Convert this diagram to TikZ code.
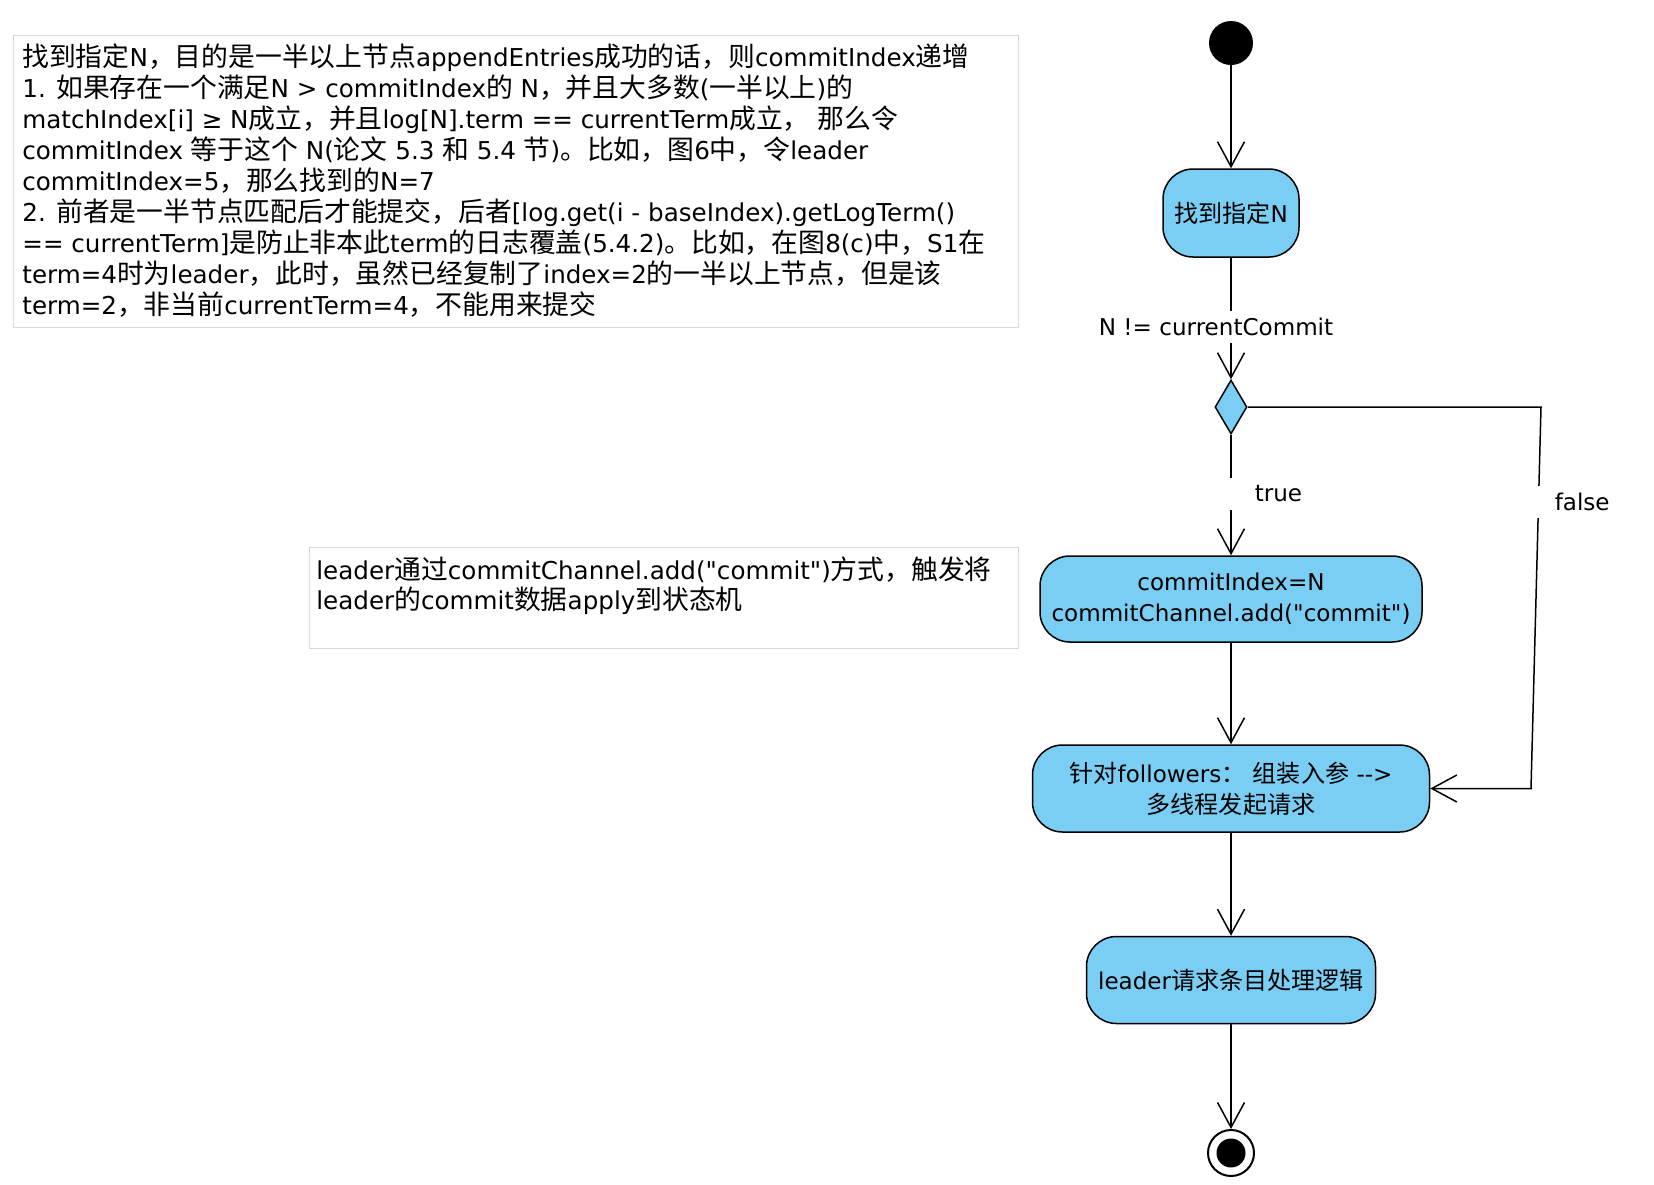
\documentclass[tikz,border=0pt]{standalone}
\usepackage{fontspec}
\setmainfont{DejaVu Sans}
\newfontfamily\latinN{DejaVu Sans}[Scale=0.918]
\newfontfamily\latinB{DejaVu Sans}[Scale=0.957]
\newfontfamily\cjkA{Noto Sans CJK SC}
\def\latinfont{\latinsel}
\def\cjkfont{\cjkA}
\let\latinsel\latinB
\usetikzlibrary{arrows.meta,shapes.geometric}

\XeTeXinterchartokenstate=1
\newXeTeXintercharclass\CJKclass
\newcount\cjkcnt
\def\setcjkrange#1#2{\cjkcnt=#1\relax
  \loop\XeTeXcharclass\cjkcnt=\CJKclass\relax
  \advance\cjkcnt by 1\relax
  \ifnum\cjkcnt<#2\relax\repeat}
\setcjkrange{"4E00}{"A000}
\setcjkrange{"3000}{"3040}
\setcjkrange{"FF00}{"FFF0}
\XeTeXinterchartoks 0 \CJKclass = {\cjkfont}
\XeTeXinterchartoks 4095 \CJKclass = {\cjkfont}
\XeTeXinterchartoks \CJKclass 0 = {\latinfont}
\XeTeXinterchartoks \CJKclass 4095 = {\latinfont}
\XeTeXinterchartoks 4095 0 = {\latinfont}

\definecolor{actblue}{RGB}{122,206,244}
\definecolor{notegray}{RGB}{218,218,218}
\newcommand\noteAfont{\fontsize{13.4pt}{15.55pt}\selectfont\let\latinsel\latinN\latinN}
\newcommand\noteBfont{\fontsize{13.4pt}{15.3pt}\selectfont\let\latinsel\latinN\latinN}
\newcommand\boxfont{\fontsize{12.05pt}{15.5pt}\selectfont\let\latinsel\latinB\latinB}

\tikzset{
  act/.style={draw=black, line width=0.75pt, fill=actblue, rounded corners=15pt,
    inner sep=0pt, align=center, font=\boxfont},
  flow/.style={draw=black, line width=0.75pt,
    -{Straight Barb[length=12.5pt,width=13.5pt,line width=0.75pt]}},
  notebox/.style={draw=notegray, line width=0.5pt, fill=white, inner sep=0pt},
  notetext/.style={anchor=north west, inner sep=0pt, align=left},
  lbl/.style={fill=white, inner ysep=0pt, minimum height=16pt, font=\boxfont},
}

\begin{document}
\begin{tikzpicture}[x=0.5pt,y=-0.5pt]
\useasboundingbox (0,0) rectangle (1654,1184);
\fill[white] (0,0) rectangle (1654,1184);

% notes
\node[notebox, minimum width=502.5pt, minimum height=146pt] (note1) at (515.5,181) {};
\node[notetext, font=\noteAfont] (note1txt) at (22,43) {找到指定N，目的是一半以上节点appendEntries成功的话，则commitIndex递增\\
1. 如果存在一个满足N > commitIndex的 N，并且大多数(一半以上)的\\
matchIndex[i] ≥ N成立，并且log[N].term == currentTerm成立， 那么令\\
commitIndex 等于这个 N(论文 5.3 和 5.4 节)。比如，图6中，令leader\\
commitIndex=5，那么找到的N=7\\
2. 前者是一半节点匹配后才能提交，后者[log.get(i - baseIndex).getLogTerm()\\
== currentTerm]是防止非本此term的日志覆盖(5.4.2)。比如，在图8(c)中，S1在\\
term=4时为leader，此时，虽然已经复制了index=2的一半以上节点，但是该\\
term=2，非当前currentTerm=4，不能用来提交};

\node[notebox, minimum width=354.5pt, minimum height=50.5pt] (note2) at (663.5,597.5) {};
\node[notetext, font=\noteBfont] (note2txt) at (316,556) {leader通过commitChannel.add("commit")方式，触发将\\
leader的commit数据apply到状态机};

% activity nodes
\node[circle, fill=black, minimum size=22pt, inner sep=0pt] (start) at (1231,43) {};
\node[act, minimum width=68pt, minimum height=44pt] (box1) at (1231,213) {找到指定N};
\node[diamond, draw=black, line width=0.75pt, fill=actblue, inner sep=0pt,
      minimum width=16pt, minimum height=27pt] (dia) at (1231,407) {};
\node[act, minimum width=191pt, minimum height=43pt] (box2) at (1231,599)
  {commitIndex=N\\commitChannel.add("commit")};
\node[act, minimum width=198.5pt, minimum height=43.5pt] (box3) at (1231,788.5)
  {针对followers： 组装入参 -{}->\\多线程发起请求};
\node[act, minimum width=144.5pt, minimum height=43.5pt] (box4) at (1231,980)
  {leader请求条目处理逻辑};
\node[circle, draw=black, line width=1pt, fill=white, minimum size=23pt, inner sep=0pt] (end) at (1231,1153) {};
\fill[black] (end.center) circle[radius=7.25pt];

\coordinate (fr1) at (1541,407);
\coordinate (fr2) at (1531,788.5);

% connectors
\draw[flow] (start) -- (box1.north);
\draw[flow] (box1.south) -- node[lbl, pos=0.57, xshift=-7.5pt] {N != currentCommit} (dia.north);
\draw[flow] (dia.south) -- node[lbl, anchor=west, pos=0.49, xshift=-1pt, inner xsep=12.5pt] {true} (box2.north);
\draw[flow] (dia.east) -- (fr1) -- node[lbl, anchor=west, pos=0.25, xshift=-1pt, inner xsep=8.75pt] {false} (fr2) -- (box3.east);
\draw[flow] (box2.south) -- (box3.north);
\draw[flow] (box3.south) -- (box4.north);
\draw[flow] (box4.south) -- (end.north);
\end{tikzpicture}
\end{document}
